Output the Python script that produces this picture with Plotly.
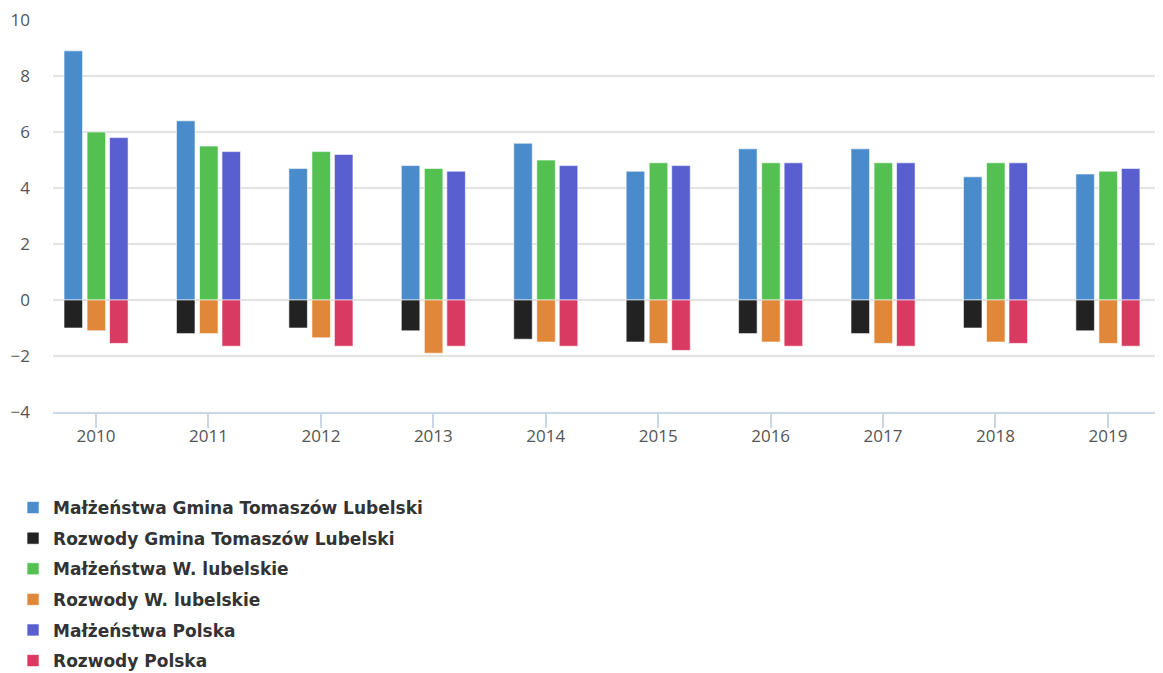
import plotly.graph_objects as go

years = ["2010", "2011", "2012", "2013", "2014", "2015", "2016", "2017", "2018", "2019"]

malz_gmina = [8.9, 6.4, 4.7, 4.8, 5.6, 4.6, 5.4, 5.4, 4.4, 4.5]
rozw_gmina = [-1.0, -1.2, -1.0, -1.1, -1.4, -1.5, -1.2, -1.2, -1.0, -1.1]
malz_woj = [6.0, 5.5, 5.3, 4.7, 5.0, 4.9, 4.9, 4.9, 4.9, 4.6]
rozw_woj = [-1.1, -1.2, -1.35, -1.9, -1.5, -1.55, -1.5, -1.55, -1.5, -1.55]
malz_pl = [5.8, 5.3, 5.2, 4.6, 4.8, 4.8, 4.9, 4.9, 4.9, 4.7]
rozw_pl = [-1.55, -1.65, -1.65, -1.65, -1.65, -1.8, -1.65, -1.65, -1.55, -1.65]

series = [
    ("Małżeństwa Gmina Tomaszów Lubelski", malz_gmina, "#4a8bcb", -0.285),
    ("Rozwody Gmina Tomaszów Lubelski", rozw_gmina, "#222222", -0.285),
    ("Małżeństwa W. lubelskie", malz_woj, "#55c052", -0.08),
    ("Rozwody W. lubelskie", rozw_woj, "#e0873a", -0.08),
    ("Małżeństwa Polska", malz_pl, "#5a5fd0", 0.12),
    ("Rozwody Polska", rozw_pl, "#d83a62", 0.12),
]

fig = go.Figure()
for i, (name, vals, color, off) in enumerate(series):
    fig.add_trace(go.Bar(
        x=list(range(len(years))), y=vals, name=name,
        marker=dict(color=color, line=dict(color="rgba(255,255,255,0.6)", width=1)),
        width=0.165, offset=off, legendgroup=f"g{i}",
    ))

fig.update_layout(
    barmode="overlay",
    width=1155, height=665,
    margin=dict(l=45, r=0, t=12, b=261, autoexpand=False),
    paper_bgcolor="white", plot_bgcolor="white",
    font=dict(family="Open Sans", color="#555555"),
    showlegend=True,
    legend=dict(
        x=-0.036, xanchor="left", y=-0.199, yanchor="top",
        orientation="v", traceorder="grouped", tracegroupgap=5.5,
        font=dict(family="DejaVu Sans", size=17, color="#333333", weight="bold"),
        bgcolor="rgba(0,0,0,0)",
    ),
    xaxis=dict(
        range=[-0.383, 9.49],
        tickmode="array", tickvals=list(range(len(years))), ticktext=years,
        tickson="boundaries", ticks="outside", ticklen=14, tickcolor="#c8d6e8", tickwidth=2,
        showline=True, linecolor="#c8d6e8", linewidth=2,
        showgrid=False, zeroline=False,
        ticklabelstandoff=-6,
        tickfont=dict(size=17, color="#555555"),
    ),
    yaxis=dict(
        range=[-4, 10], tickmode="array", tickvals=[-4, -2, 0, 2, 4, 6, 8, 10],
        showgrid=True, gridcolor="#e2e2e2", gridwidth=2,
        zeroline=False, showline=False, ticks="",
        ticklabelstandoff=22, ticklabeloverflow="allow",
        tickfont=dict(size=17, color="#555555"),
    ),
)

fig.write_html("out.html")
